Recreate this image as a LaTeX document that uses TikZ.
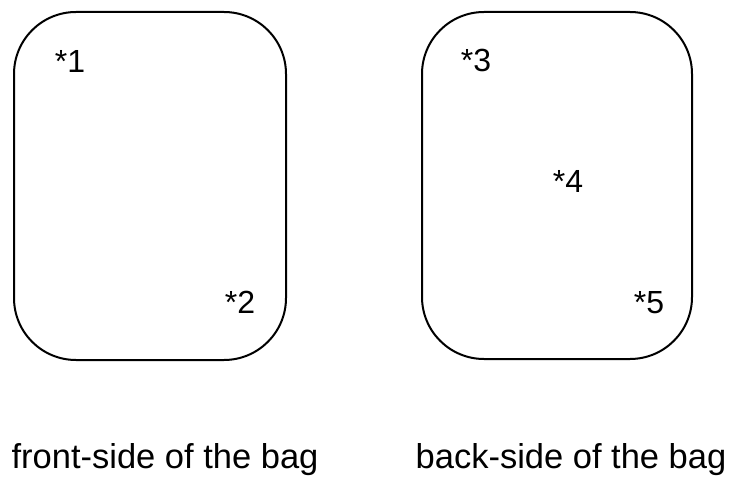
\documentclass[tikz,border=0pt]{standalone}
\usepackage{fontspec}
\setmainfont{Liberation Sans}
\usetikzlibrary{shapes,calc}

\tikzset{
  bag/.style={draw, line width=2pt, rounded corners=62pt, inner sep=0pt},
  spot/.style={anchor=base, inner sep=0pt, font=\fontsize{32}{38}\selectfont},
  caption/.style={anchor=base, inner sep=0pt, font=\fontsize{34.5}{40}\selectfont}
}

\begin{document}
\begin{tikzpicture}[x=1pt,y=-1pt]
\useasboundingbox (0,0) rectangle (733,478);
\node[bag, minimum width=272pt, minimum height=348pt] (B0) at (150,186) {};
\node[bag, minimum width=270pt, minimum height=347pt] (B1) at (557,185.5) {};

\node[spot] (N1) at (70,73) {*1};
\node[spot] (N2) at (240,313) {*2};
\node[spot] (N3) at (476,72) {*3};
\node[spot] (N4) at (568,193) {*4};
\node[spot] (N5) at (649,313) {*5};

\node[caption] (C0) at (165,468) {front-side of the bag};
\node[caption] (C1) at (571,468) {back-side of the bag};
\end{tikzpicture}
\end{document}
